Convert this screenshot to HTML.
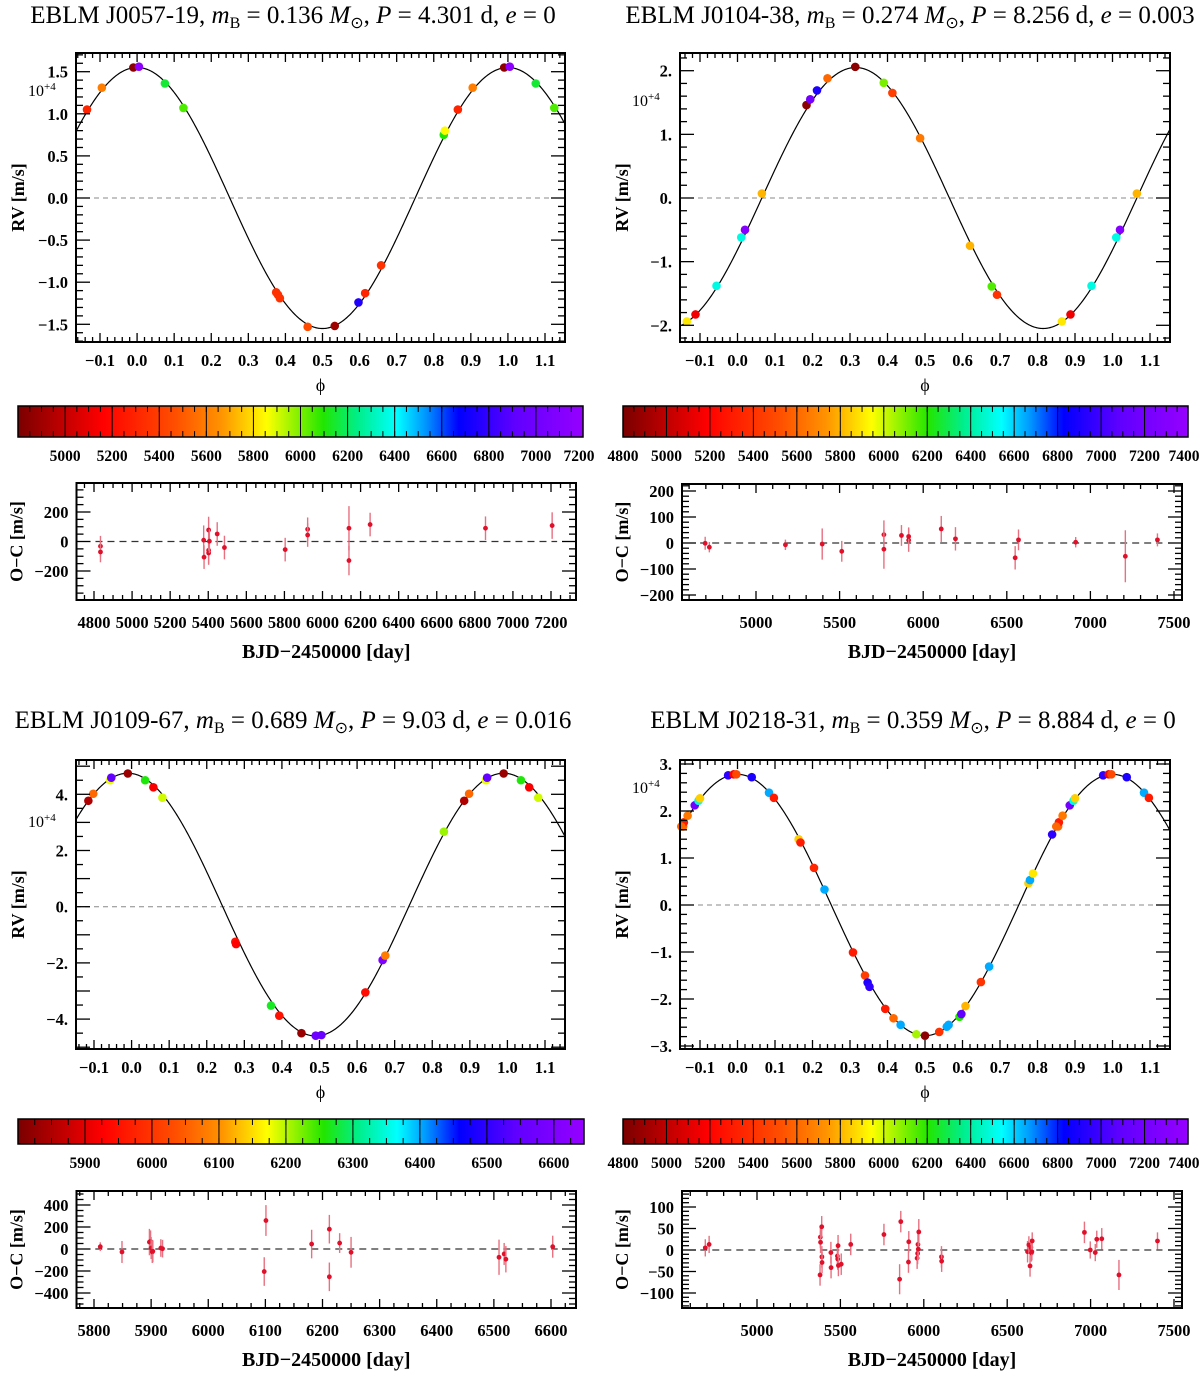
<!DOCTYPE html>
<html><head><meta charset="utf-8"><style>
html,body{margin:0;padding:0;background:#fff;}
svg text{font-family:"Liberation Serif",serif;}
.tk{font-size:16.5px;font-weight:bold;}
.ttl{font-size:25px;}
.ax{font-size:18px;font-weight:bold;}
</style></head><body>
<svg id="fig" xmlns="http://www.w3.org/2000/svg" width="1200" height="1374" viewBox="0 0 1200 1374">
<defs>
<linearGradient id="jet" x1="0" x2="1" y1="0" y2="0">
<stop offset="0" stop-color="#7a0000"/><stop offset="0.15" stop-color="#ff0000"/><stop offset="0.28" stop-color="#ff5000"/>
<stop offset="0.36" stop-color="#ff9400"/><stop offset="0.44" stop-color="#ffff00"/><stop offset="0.54" stop-color="#22e600"/>
<stop offset="0.60" stop-color="#00ee88"/><stop offset="0.67" stop-color="#00ffff"/><stop offset="0.72" stop-color="#0099ff"/>
<stop offset="0.78" stop-color="#0000ff"/><stop offset="0.88" stop-color="#6000ff"/><stop offset="1" stop-color="#9600ff"/>
</linearGradient>
</defs>
<text class="ttl" x="293" y="23" text-anchor="middle">EBLM J0057-19, <tspan font-style="italic">m</tspan><tspan font-size="16" dy="5">B</tspan><tspan dy="-5"> = 0.136 </tspan><tspan font-style="italic">M</tspan><tspan font-size="16" dy="5">⊙</tspan><tspan dy="-5">, </tspan><tspan font-style="italic">P</tspan> = 4.301 d, <tspan font-style="italic">e</tspan> = 0</text>
<text class="ttl" x="910" y="23" text-anchor="middle">EBLM J0104-38, <tspan font-style="italic">m</tspan><tspan font-size="16" dy="5">B</tspan><tspan dy="-5"> = 0.274 </tspan><tspan font-style="italic">M</tspan><tspan font-size="16" dy="5">⊙</tspan><tspan dy="-5">, </tspan><tspan font-style="italic">P</tspan> = 8.256 d, <tspan font-style="italic">e</tspan> = 0.003</text>
<text class="ttl" x="293" y="728" text-anchor="middle">EBLM J0109-67, <tspan font-style="italic">m</tspan><tspan font-size="16" dy="5">B</tspan><tspan dy="-5"> = 0.689 </tspan><tspan font-style="italic">M</tspan><tspan font-size="16" dy="5">⊙</tspan><tspan dy="-5">, </tspan><tspan font-style="italic">P</tspan> = 9.03 d, <tspan font-style="italic">e</tspan> = 0.016</text>
<text class="ttl" x="913" y="728" text-anchor="middle">EBLM J0218-31, <tspan font-style="italic">m</tspan><tspan font-size="16" dy="5">B</tspan><tspan dy="-5"> = 0.359 </tspan><tspan font-style="italic">M</tspan><tspan font-size="16" dy="5">⊙</tspan><tspan dy="-5">, </tspan><tspan font-style="italic">P</tspan> = 8.884 d, <tspan font-style="italic">e</tspan> = 0</text>
</svg>
<script>
// ---- Panel 1 data (J0057-19)
const p1Phase=[0.865,0.905,0.99,0.005,0.075,0.125,0.375,0.38,0.385,0.46,0.533,0.597,0.615,0.658,0.827,0.83];
const p1RV=[1.05,1.31,1.55,1.56,1.36,1.07,-1.12,-1.15,-1.19,-1.53,-1.52,-1.24,-1.13,-0.80,0.75,0.80];
const p1Col=[5300,5600,4850,7150,6150,6050,5350,5350,5350,5450,4900,6750,5300,5350,6100,5850];
const p1Day=[4834,4834,5376,5378,5402,5402,5402,5406,5447,5485,5804,5922,5922,6139,6139,6250,6856,7206];
const p1OC=[-32,-71,9,-106,78,-60,-78,2,51,-41,-55,83,44,90,-129,115,90,108];
const p1Err=[70,70,100,80,90,90,80,80,80,80,80,80,80,150,100,80,80,90];
// ---- Panel 2 data (J0104-38)
const p2Phase=[0.865,0.888,0.944,0.01,0.02,0.065,0.184,0.194,0.212,0.24,0.314,0.39,0.413,0.487,0.62,0.678,0.692];
const p2RV=[-1.94,-1.83,-1.38,-0.62,-0.50,0.07,1.46,1.55,1.69,1.88,2.06,1.81,1.65,0.94,-0.75,-1.39,-1.52];
const p2Col=[5900,5150,6500,6500,7300,5800,4850,7200,6900,5600,4850,6100,5450,5650,5800,6150,5400];
const p2Day=[4696,4721,5176,5396,5513,5765,5765,5870,5913,5913,6108,6193,6550,6570,6912,7209,7401];
const p2OC=[-1,-16,-7,-4,-32,32,-24,29,11,25,54,16,-57,12,3,-51,12];
const p2Err=[25,20,20,60,40,55,75,40,45,35,50,45,45,40,20,100,25];
// ---- Panel 3 data (J0109-67)
const p3Phase=[0.885,0.898,0.943,0.946,0.99,0.036,0.058,0.082,0.276,0.278,0.371,0.393,0.452,0.49,0.505,0.622,0.668,0.675,0.831];
const p3RV=[3.77,4.02,4.5,4.59,4.74,4.5,4.25,3.88,-1.25,-1.33,-3.52,-3.88,-4.5,-4.59,-4.57,-3.05,-1.90,-1.74,2.67];
const p3Col=[5850,6060,6180,6550,5830,6260,5920,6190,5950,5930,6270,5950,5830,6570,6560,5940,6600,6080,6210];
const p3Day=[5811,5849,5897,5899,5900,5902,5903,5917,5920,6098,6101,6181,6212,6212,6230,6250,6509,6518,6521,6603];
const p3OC=[21,-27,63,69,9,-27,-21,9,3,-205,259,45,180,-253,54,-30,-75,-45,-93,21];
const p3Err=[40,100,120,100,100,100,100,80,80,130,140,130,130,130,90,140,160,100,120,100];
// ---- Panel 4 data (J0218-31)
const p4Phase=[0.855,0.857,0.867,0.886,0.896,0.9,0.975,0.99,0.997,0.038,0.084,0.097,0.163,0.168,0.204,0.232,0.308,0.34,0.347,0.352,0.394,0.416,0.435,0.477,0.5,0.538,0.558,0.563,0.592,0.597,0.608,0.649,0.671,0.776,0.78,0.788,0.839,0.85];
const p4RV=[1.67,1.76,1.90,2.12,2.22,2.27,2.76,2.78,2.78,2.72,2.39,2.28,1.40,1.33,0.79,0.33,-1.01,-1.50,-1.65,-1.74,-2.21,-2.41,-2.55,-2.75,-2.78,-2.70,-2.59,-2.55,-2.38,-2.32,-2.15,-1.64,-1.31,0.46,0.53,0.67,1.50,1.67];
const p4Col=[5600,5300,5650,7200,6500,5850,6950,5200,5500,6900,6650,5300,5850,5300,5350,6650,5300,5450,6900,6950,5300,5600,6650,6050,4850,5400,6650,6650,6200,7100,5800,5400,6650,5850,6650,5900,6950,5600];
const p4Day=[4690,4713,5378,5380,5381,5388,5389,5390,5443,5444,5482,5484,5486,5488,5505,5562,5761,5855,5862,5908,5910,5960,5963,5965,5967,5970,6106,6107,6622,6630,6637,6642,6645,6648,6650,6963,6998,7028,7037,7067,7170,7401];
const p4OC=[5,13,-58,30,18,54,-16,-29,-6,-41,-14,-21,10,-36,-33,13,36,-68,66,-28,19,-19,-8,13,2,42,-16,-26,-4,12,-37,6,-7,-4,21,41,0,-6,25,26,-58,21];
const p4Err=[20,20,25,25,25,25,25,25,25,25,25,25,25,25,25,25,25,35,25,25,25,25,25,25,25,30,25,25,25,20,25,20,20,20,20,25,20,20,20,25,35,20];
// ---- tick labels
const p1XTicks=["−0.1","0.0","0.1","0.2","0.3","0.4","0.5","0.6","0.7","0.8","0.9","1.0","1.1"];
const p1YTicks=[1.5,1.0,0.5,0.0,-0.5,-1.0,-1.5];
const p2YTicks=[2,1,0,-1,-2];
const p3YTicks=[4,2,0,-2,-4];
const p4YTicks=[3,2,1,0,-1,-2,-3];
const cb1Labels=[5000,5200,5400,5600,5800,6000,6200,6400,6600,6800,7000,7200];
const cb2Labels=[4800,5000,5200,5400,5600,5800,6000,6200,6400,6600,6800,7000,7200,7400];
const cb3Labels=[5900,6000,6100,6200,6300,6400,6500,6600];
const oc1XLabels=[4800,5000,5200,5400,5600,5800,6000,6200,6400,6600,6800,7000,7200];
const oc2XLabels=[5000,5500,6000,6500,7000,7500];
const oc3XLabels=[5800,5900,6000,6100,6200,6300,6400,6500,6600];
const oc1YLabels=[200,0,-200];
const oc2YLabels=[200,100,0,-100,-200];
const oc3YLabels=[400,200,0,-200,-400];
const oc4YLabels=[100,50,0,-50,-100];

const NS="http://www.w3.org/2000/svg";
const fig=document.getElementById('fig');
function mk(tag,attrs,parent){const e=document.createElementNS(NS,tag);for(const k in attrs)e.setAttribute(k,attrs[k]);(parent||fig).appendChild(e);return e;}
const stops=[[0,[122,0,0]],[0.15,[255,0,0]],[0.28,[255,80,0]],[0.36,[255,148,0]],[0.44,[255,255,0]],[0.54,[34,230,0]],[0.60,[0,238,136]],[0.67,[0,255,255]],[0.72,[0,153,255]],[0.78,[0,0,255]],[0.88,[96,0,255]],[1,[150,0,255]]];
function cmap(t){t=Math.max(0,Math.min(1,t));for(let i=1;i<stops.length;i++){if(t<=stops[i][0]){const a=stops[i-1],b=stops[i];const f=(t-a[0])/(b[0]-a[0]);const c=a[1].map((v,j)=>Math.round(v+(b[1][j]-v)*f));return `rgb(${c[0]},${c[1]},${c[2]})`;}}return 'rgb(150,0,255)';}
function fmtMinus(s){return String(s).replace('-','−');}
function lin(d0,d1,r0,r1){return v=>r0+(v-d0)*(r1-r0)/(d1-d0);}

function ticksAxis(g,x0,x1,y0,y1,sx,sy,xmaj,xmin,xd,ymaj,ymin,yd){
  const eps=1e-9;
  for(let v=Math.ceil(xd[0]/xmin-eps)*xmin;v<=xd[1]+eps;v+=xmin){const x=sx(v);const maj=Math.abs(v/xmaj-Math.round(v/xmaj))<1e-6;const L=maj?9:5;
    mk('line',{x1:x,x2:x,y1:y1,y2:y1-L,stroke:'#000','stroke-width':1.3},g);mk('line',{x1:x,x2:x,y1:y0,y2:y0+L,stroke:'#000','stroke-width':1.3},g);}
  for(let v=Math.ceil(yd[0]/ymin-eps)*ymin;v<=yd[1]+eps;v+=ymin){const y=sy(v);const maj=Math.abs(v/ymaj-Math.round(v/ymaj))<1e-6;const L=maj?14:7;
    mk('line',{x1:x0,x2:x0+L,y1:y,y2:y,stroke:'#000','stroke-width':1.3},g);mk('line',{x1:x1,x2:x1-L,y1:y,y2:y,stroke:'#000','stroke-width':1.3},g);}
}

function rvPanel(o){
  const g=mk('g',{});
  
  
  const sx=lin(-0.1,1.1,o.xa,o.xb), sy=lin(0,o.yref,o.y0v,o.yrefpx);
  const xd=[(o.x0-o.xa)/(o.xb-o.xa)*1.2-0.1,(o.x1-o.xa)/(o.xb-o.xa)*1.2-0.1];
  const yd=[ (o.y1-o.y0v)/(o.yrefpx-o.y0v)*o.yref, (o.y0-o.y0v)/(o.yrefpx-o.y0v)*o.yref ];
  const zl=mk('line',{x1:o.x0,x2:o.x1,y1:sy(0),y2:sy(0),stroke:'#888','stroke-width':1,'stroke-dasharray':'5,4'},g);
  
  
  let d='';for(let i=0;i<=500;i++){const ph=xd[0]+(xd[1]-xd[0])*i/500;d+=(i?'L':'M')+sx(ph).toFixed(2)+','+sy(o.model(ph)).toFixed(2);}
  const cp=mk('path',{d:d,fill:'none',stroke:'#000','stroke-width':1.2},g);
  
  
  for(let i=0;i<o.ph.length;i++){for(const k of [-1,0,1]){const ph=o.ph[i]+k;if(ph<xd[0]-0.005||ph>xd[1]+0.005)continue;
    const c=mk('circle',{cx:sx(ph),cy:sy(o.rv[i]),r:4.3,fill:cmap((o.col[i]-o.cb[0])/(o.cb[1]-o.cb[0]))},g);
    
    }}
  mk('rect',{x:o.x0,y:o.y0,width:o.x1-o.x0,height:o.y1-o.y0,fill:'none',stroke:'#000','stroke-width':2},g);
  ticksAxis(g,o.x0,o.x1,o.y0,o.y1,sx,sy,0.1,0.02,xd,o.ymaj,o.ymin,yd);
  o.xt.forEach((t,i)=>{const v=-0.1+0.1*i;const tx=mk('text',{x:sx(v),y:o.y1+24,'text-anchor':'middle',class:'tk'},g);tx.textContent=t;
    
    });
  o.yt.forEach(v=>{const tx=mk('text',{x:o.x0-8,y:sy(v)+6,'text-anchor':'end',class:'tk'},g);tx.textContent=fmtMinus(o.yfmt(v));
    
    });
  const ex=mk('text',{x:o.x0-48,y:o.expY,class:'tk',style:'font-weight:normal;font-size:16px'},g);ex.innerHTML='10<tspan font-size="11" dy="-6">+4</tspan>';
  
  
  const xl=mk('text',{x:(o.x0+o.x1)/2,y:o.y1+49,'text-anchor':'middle',style:'font-size:18px'},g);xl.textContent='ϕ';
  
  
  const yl=mk('text',{x:0,y:0,'text-anchor':'middle',class:'ax',transform:`translate(${o.x0-52},${(o.y0+o.y1)/2}) rotate(-90)`},g);yl.textContent='RV [m/s]';
  
  
}

function colorbar(o){
  const g=mk('g',{});
  
  
  const sx=lin(o.cb[0],o.cb[1],o.x0,o.x1);
  mk('rect',{x:o.x0,y:o.y0,width:o.x1-o.x0,height:o.y1-o.y0,fill:'url(#jet)'},g);
  for(let v=Math.ceil(o.cb[0]/o.seg)*o.seg;v<o.cb[1];v+=o.seg){if(v<=o.cb[0])continue;const x=sx(v);mk('line',{x1:x,x2:x,y1:o.y0,y2:o.y1,stroke:'#000','stroke-width':1},g);}
  for(let v=Math.ceil(o.cb[0]/o.mt)*o.mt;v<o.cb[1];v+=o.mt){const x=sx(v);mk('line',{x1:x,x2:x,y1:o.y0,y2:o.y0+6,stroke:'#000','stroke-width':1},g);mk('line',{x1:x,x2:x,y1:o.y1,y2:o.y1-6,stroke:'#000','stroke-width':1},g);}
  mk('rect',{x:o.x0,y:o.y0,width:o.x1-o.x0,height:o.y1-o.y0,fill:'none',stroke:'#000','stroke-width':1.5},g);
  o.labels.forEach(v=>{const tx=mk('text',{x:Math.min(sx(v),o.x1-4),y:o.y1+24,'text-anchor':'middle',class:'tk',style:'font-size:15.5px'},g);tx.textContent=v;
    
    });
}

function ocPanel(o){
  const g=mk('g',{});
  
  
  const sx=lin(o.xr[0],o.xr[1],o.xrp[0],o.xrp[1]), sy=lin(0,o.yref,o.y0v,o.yrefpx);
  const xd=[o.xr[0]+(o.x0-o.xrp[0])/(o.xrp[1]-o.xrp[0])*(o.xr[1]-o.xr[0]), o.xr[0]+(o.x1-o.xrp[0])/(o.xrp[1]-o.xrp[0])*(o.xr[1]-o.xr[0])];
  const yd=[(o.y1-o.y0v)/(o.yrefpx-o.y0v)*o.yref,(o.y0-o.y0v)/(o.yrefpx-o.y0v)*o.yref];
  const zl=mk('line',{x1:sx(o.day[0])-5,x2:sx(o.day[o.day.length-1])+5,y1:sy(0),y2:sy(0),stroke:'#333','stroke-width':1.3,'stroke-dasharray':'7,5'},g);
  
  
  for(let i=0;i<o.day.length;i++){const x=sx(o.day[i]),y=sy(o.oc[i]);
    const eb=mk('line',{x1:x,x2:x,y1:sy(o.oc[i]+o.err[i]),y2:sy(o.oc[i]-o.err[i]),stroke:'#e87080','stroke-width':1.4},g);
    
    
    const c=mk('circle',{cx:x,cy:y,r:2.4,fill:'#e0102a'},g);
    
    }
  mk('rect',{x:o.x0,y:o.y0,width:o.x1-o.x0,height:o.y1-o.y0,fill:'none',stroke:'#000','stroke-width':2},g);
  ticksAxis(g,o.x0,o.x1,o.y0,o.y1,sx,sy,o.xmaj,o.xmin,xd,o.ymaj,o.ymin,yd);
  o.xl.forEach(v=>{const tx=mk('text',{x:sx(v),y:o.y1+28,'text-anchor':'middle',class:'tk'},g);tx.textContent=v;
    
    });
  o.yl.forEach(v=>{const tx=mk('text',{x:o.x0-8,y:sy(v)+6,'text-anchor':'end',class:'tk'},g);tx.textContent=fmtMinus(v);
    
    });
  const xt=mk('text',{x:(o.x0+o.x1)/2,y:o.y1+58,'text-anchor':'middle',class:'ax',style:'font-size:20px'},g);xt.textContent='BJD−2450000 [day]';
  
  
  const yt=mk('text',{x:0,y:0,'text-anchor':'middle',class:'ax',transform:`translate(${o.x0-54},${(o.y0+o.y1)/2}) rotate(-90)`},g);yt.textContent='O−C [m/s]';
  
  
}

const f1=v=>v.toFixed(1), fI=v=>v+'.';
rvPanel({name:'j0057',x0:76,x1:565,y0:53,y1:342,xa:100,xb:545,y0v:198,yref:1.5,yrefpx:71.7,ph:p1Phase,rv:p1RV,col:p1Col,cb:[4800,7200],
  model:p=>1.55*Math.cos(2*Math.PI*p),xt:p1XTicks,yt:p1YTicks,yfmt:f1,ymaj:0.5,ymin:0.1,expY:96});
colorbar({name:'j0057',x0:18,x1:583,y0:406,y1:437,cb:[4800,7200],seg:200,mt:50,labels:cb1Labels});
ocPanel({name:'j0057',x0:76.5,x1:576,y0:483,y1:600,xr:[4800,7200],xrp:[94,551],y0v:541.5,yref:200,yrefpx:512,day:p1Day,oc:p1OC,err:p1Err,
  xmaj:200,xmin:50,ymaj:200,ymin:50,xl:oc1XLabels,yl:oc1YLabels});

rvPanel({name:'j0104',x0:680,x1:1170,y0:53,y1:342,xa:700,xb:1150,y0v:198,yref:2,yrefpx:70.7,ph:p2Phase,rv:p2RV,col:p2Col,cb:[4800,7400],
  model:p=>2.05*Math.sin(2*Math.PI*(p-0.065)),xt:p1XTicks,yt:p2YTicks,yfmt:fI,ymaj:1,ymin:0.2,expY:106});
colorbar({name:'j0104',x0:623,x1:1188,y0:406,y1:437,cb:[4800,7400],seg:200,mt:50,labels:cb2Labels});
ocPanel({name:'j0104',x0:682,x1:1182,y0:484,y1:600,xr:[5000,7500],xrp:[756,1174],y0v:543,yref:200,yrefpx:491,day:p2Day,oc:p2OC,err:p2Err,
  xmaj:500,xmin:100,ymaj:100,ymin:20,xl:oc2XLabels,yl:oc2YLabels});

rvPanel({name:'j0109',x0:76,x1:565,y0:760,y1:1049,xa:94,xb:545,y0v:906.7,yref:4,yrefpx:794.3,ph:p3Phase,rv:p3RV,col:p3Col,cb:[5800,6645],
  model:p=>0.075+4.675*Math.cos(2*Math.PI*(p+0.01)),xt:p1XTicks,yt:p3YTicks,yfmt:fI,ymaj:1,ymin:0.5,expY:827});
colorbar({name:'j0109',x0:18,x1:584,y0:1119,y1:1144,cb:[5800,6645],seg:100,mt:25,labels:cb3Labels});
ocPanel({name:'j0109',x0:76.5,x1:576,y0:1191,y1:1308,xr:[5800,6600],xrp:[94,551],y0v:1249,yref:400,yrefpx:1205,day:p3Day,oc:p3OC,err:p3Err,
  xmaj:100,xmin:25,ymaj:200,ymin:50,xl:oc3XLabels,yl:oc3YLabels});

rvPanel({name:'j0218',x0:680,x1:1170,y0:760,y1:1049,xa:700,xb:1150,y0v:905,yref:3,yrefpx:764,ph:p4Phase,rv:p4RV,col:p4Col,cb:[4800,7400],
  model:p=>2.78*Math.cos(2*Math.PI*p),xt:p1XTicks,yt:p4YTicks,yfmt:fI,ymaj:1,ymin:0.2,expY:793});
colorbar({name:'j0218',x0:623,x1:1188,y0:1119,y1:1144,cb:[4800,7400],seg:200,mt:50,labels:cb2Labels});
ocPanel({name:'j0218',x0:682,x1:1182,y0:1191,y1:1308,xr:[5000,7500],xrp:[757,1174],y0v:1250,yref:100,yrefpx:1207,day:p4Day,oc:p4OC,err:p4Err,
  xmaj:500,xmin:100,ymaj:50,ymin:10,xl:oc2XLabels,yl:oc4YLabels});
</script>
</body></html>
